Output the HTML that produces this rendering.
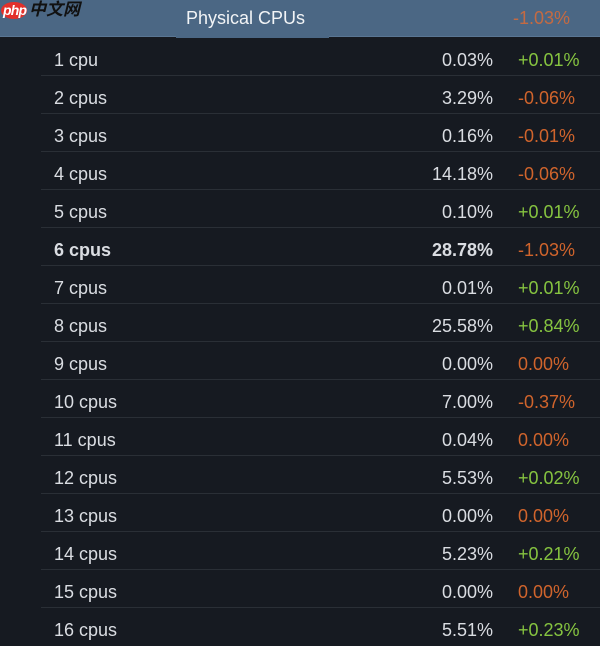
<!DOCTYPE html>
<html><head><meta charset="utf-8"><style>
*{margin:0;padding:0;box-sizing:border-box}
html,body{width:600px;height:646px;overflow:hidden;background:#161a21}
body{position:relative;font-family:"Liberation Sans",Arial,sans-serif;color:#dadde2}
.hdr{position:absolute;left:0;top:0;width:600px;height:37px;background:#4b6784;border-bottom:1px solid #5a7693}
.tab{position:absolute;left:176px;top:0;width:153px;height:38px;background:#4b6784}
.htitle{position:absolute;left:186px;top:0;line-height:37px;font-size:18px;color:#f2f4f6}
.hchg{position:absolute;left:513px;top:0;line-height:37px;font-size:18px;color:#c46a42}
.logo{position:absolute;left:1px;top:2px;width:26px;height:17px;border-radius:50%;background:#e3302a}
.logo span{position:absolute;left:2px;top:0px;font-size:14px;font-style:italic;color:#fff;font-weight:bold;letter-spacing:-0.8px}
.cn{position:absolute;left:29px;top:0px;font-size:17px;line-height:20px;font-style:italic;color:#111;font-weight:bold;font-family:"Liberation Sans","Noto Sans CJK SC",sans-serif}
.row{position:absolute;left:41px;width:559px;height:38px;border-bottom:1px solid #2a2f36;font-size:18px;padding-top:7px;line-height:30px}
.row .l{position:absolute;left:13px}
.row .p{position:absolute;right:107px}
.row .c{position:absolute;left:477px}
.g{color:#86c440}.o{color:#d0642c}
.b .l,.b .p{font-weight:bold}
.last{border-bottom:none}
</style></head><body>
<div class="hdr"></div>
<div class="tab"></div>
<div class="logo"><span>php</span></div>
<div class="cn">中文网</div>
<div class="htitle">Physical CPUs</div>
<div class="hchg">-1.03%</div>

<div class="row" style="top:38px"><span class="l">1 cpu</span><span class="p">0.03%</span><span class="c g">+0.01%</span></div>
<div class="row" style="top:76px"><span class="l">2 cpus</span><span class="p">3.29%</span><span class="c o">-0.06%</span></div>
<div class="row" style="top:114px"><span class="l">3 cpus</span><span class="p">0.16%</span><span class="c o">-0.01%</span></div>
<div class="row" style="top:152px"><span class="l">4 cpus</span><span class="p">14.18%</span><span class="c o">-0.06%</span></div>
<div class="row" style="top:190px"><span class="l">5 cpus</span><span class="p">0.10%</span><span class="c g">+0.01%</span></div>
<div class="row b" style="top:228px"><span class="l">6 cpus</span><span class="p">28.78%</span><span class="c o">-1.03%</span></div>
<div class="row" style="top:266px"><span class="l">7 cpus</span><span class="p">0.01%</span><span class="c g">+0.01%</span></div>
<div class="row" style="top:304px"><span class="l">8 cpus</span><span class="p">25.58%</span><span class="c g">+0.84%</span></div>
<div class="row" style="top:342px"><span class="l">9 cpus</span><span class="p">0.00%</span><span class="c o">0.00%</span></div>
<div class="row" style="top:380px"><span class="l">10 cpus</span><span class="p">7.00%</span><span class="c o">-0.37%</span></div>
<div class="row" style="top:418px"><span class="l">11 cpus</span><span class="p">0.04%</span><span class="c o">0.00%</span></div>
<div class="row" style="top:456px"><span class="l">12 cpus</span><span class="p">5.53%</span><span class="c g">+0.02%</span></div>
<div class="row" style="top:494px"><span class="l">13 cpus</span><span class="p">0.00%</span><span class="c o">0.00%</span></div>
<div class="row" style="top:532px"><span class="l">14 cpus</span><span class="p">5.23%</span><span class="c g">+0.21%</span></div>
<div class="row" style="top:570px"><span class="l">15 cpus</span><span class="p">0.00%</span><span class="c o">0.00%</span></div>
<div class="row last" style="top:608px"><span class="l">16 cpus</span><span class="p">5.51%</span><span class="c g">+0.23%</span></div>
</body></html>
